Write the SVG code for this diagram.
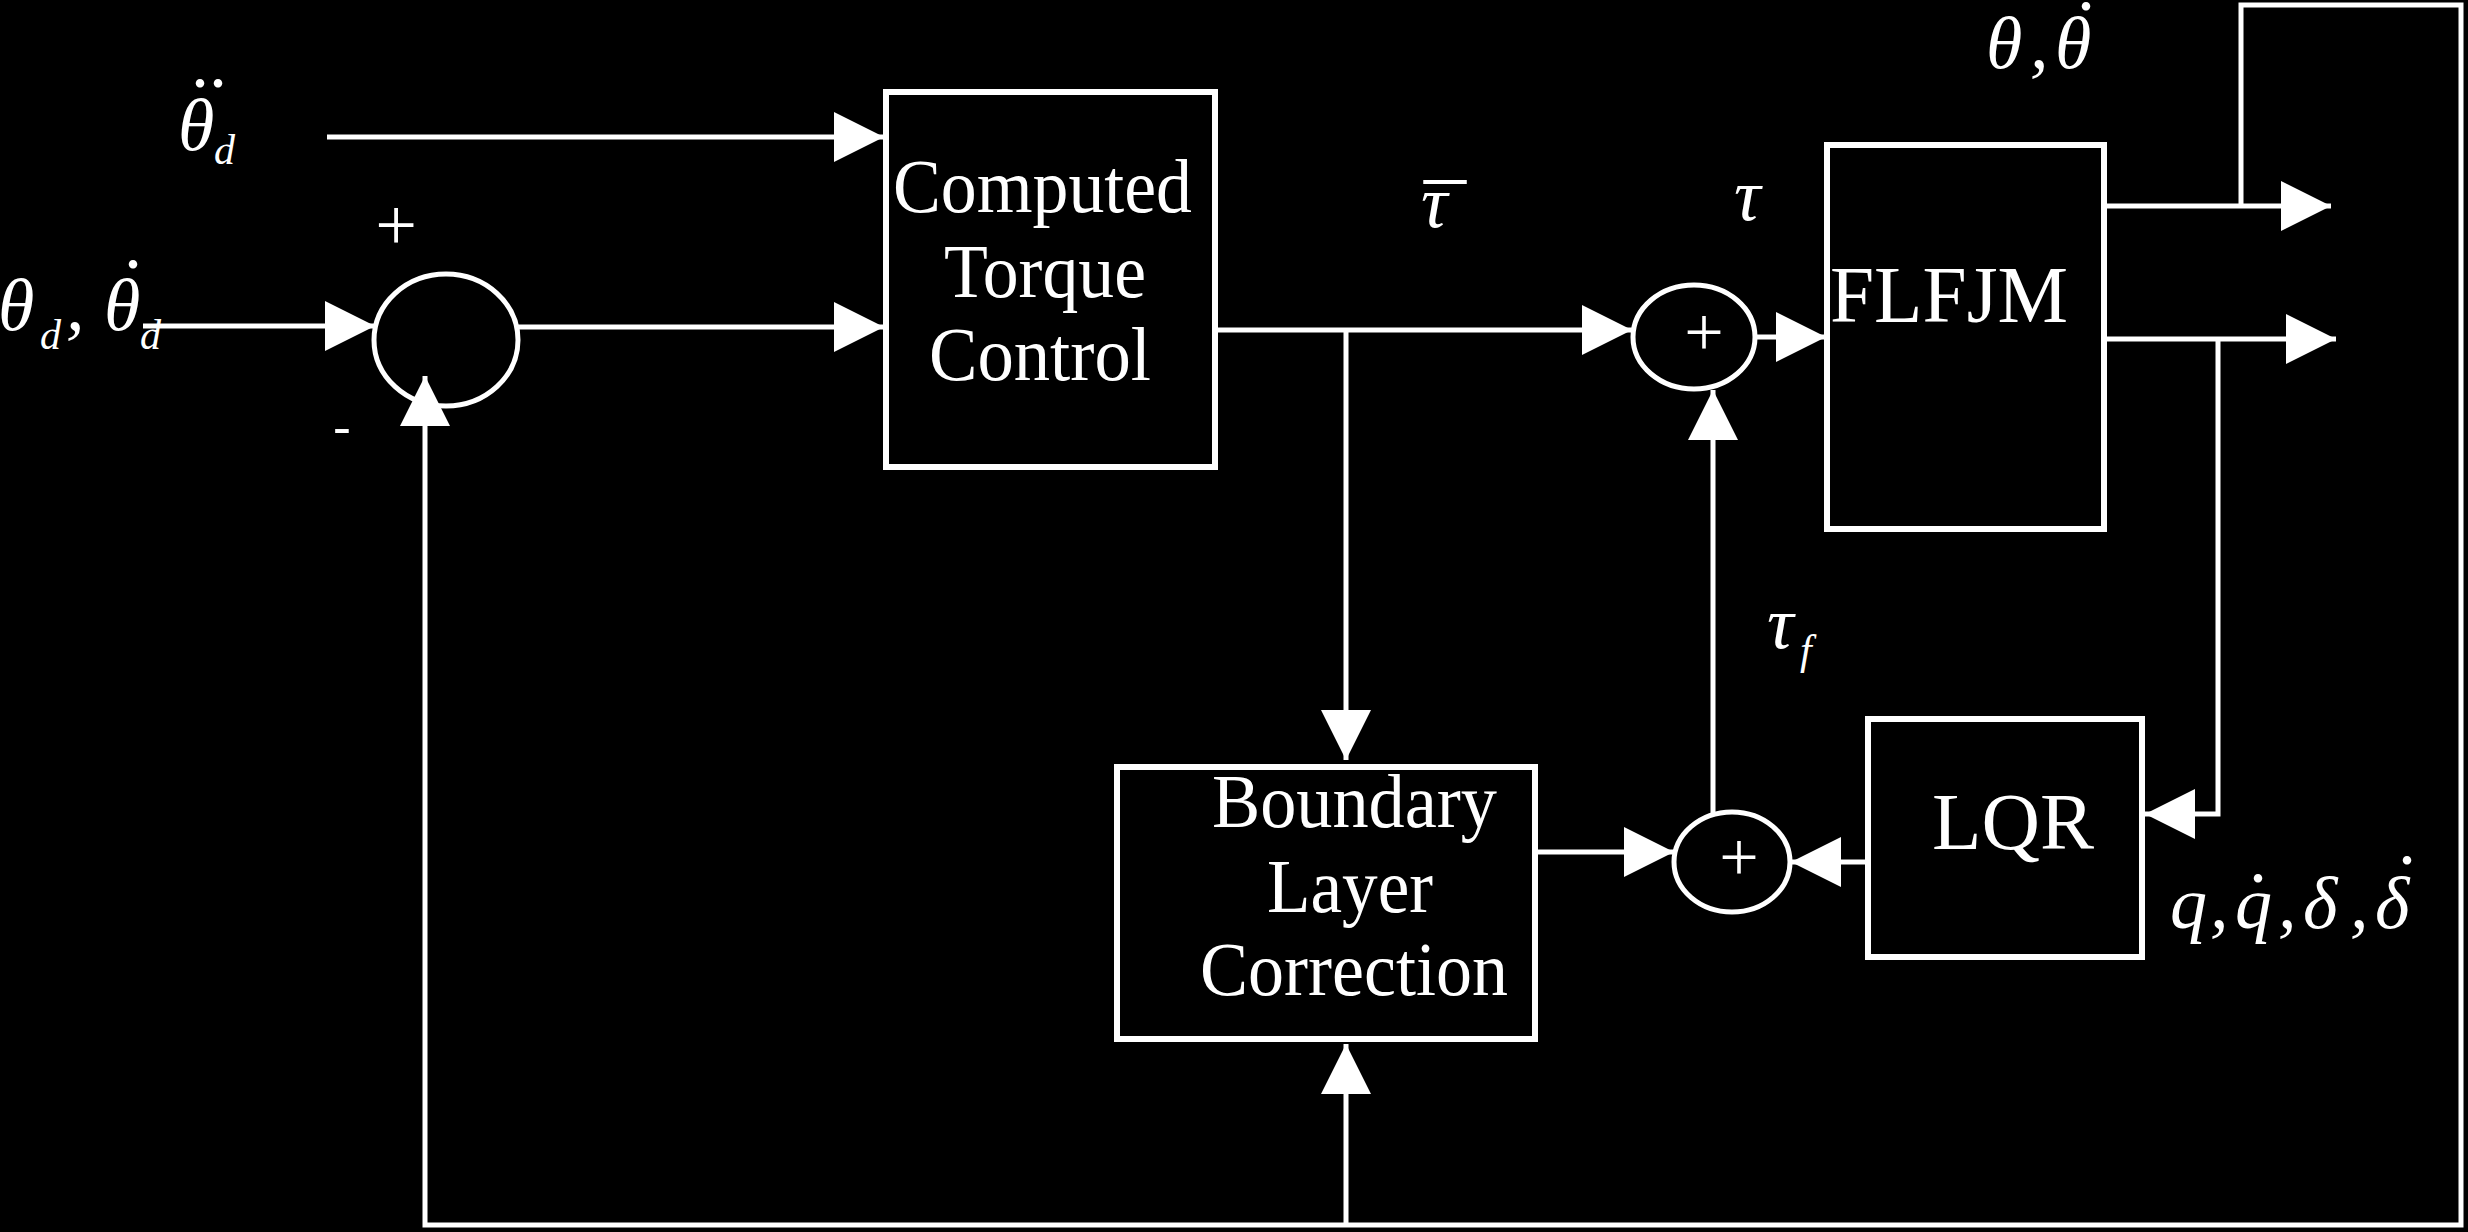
<svg xmlns="http://www.w3.org/2000/svg" width="2468" height="1232" viewBox="0 0 2468 1232">
<style>
.box{fill:none;stroke:#fff;stroke-width:6}
.sum{fill:none;stroke:#fff;stroke-width:5}
.ln{fill:none;stroke:#fff;stroke-width:5}
.lbl{fill:#fff;font-family:"Liberation Serif","Times New Roman",serif;font-size:76px}
.m{fill:#fff;font-family:"Liberation Serif","Times New Roman",serif;font-style:italic;font-size:74px}
.sub{font-size:42px}
.sgn{fill:#fff;font-family:"Liberation Serif","Times New Roman",serif;text-anchor:middle}
.dia{font-style:normal;font-size:72px;text-anchor:middle}
.bar{font-style:normal;font-size:84px;text-anchor:middle}
</style>
<defs>
<marker id="arrow" viewBox="0 0 50 50" markerWidth="50" markerHeight="50" refX="50" refY="25" orient="auto" markerUnits="userSpaceOnUse">
<path d="M0,0 L50,25 L0,50 Z" fill="#fff"/>
</marker>
</defs>
<rect x="0" y="0" width="2468" height="1232" fill="#000"/>

<g id="connectors">
<path class="ln" d="M327,137 H884" marker-end="url(#arrow)"/>
<path class="ln" d="M143,326 H375" marker-end="url(#arrow)"/>
<path class="ln" d="M518,327 H884" marker-end="url(#arrow)"/>
<path class="ln" d="M1215,330 H1632" marker-end="url(#arrow)"/>
<path class="ln" d="M1346,330 V760" marker-end="url(#arrow)"/>
<path class="ln" d="M1755,337 H1826" marker-end="url(#arrow)"/>
<path class="ln" d="M2104,206 H2331" marker-end="url(#arrow)"/>
<path class="ln" d="M2104,339 H2336" marker-end="url(#arrow)"/>
<path class="ln" d="M2218,339 V814 H2145" marker-end="url(#arrow)"/>
<path class="ln" d="M1868,862 H1791" marker-end="url(#arrow)"/>
<path class="ln" d="M1535,852 H1674" marker-end="url(#arrow)"/>
<path class="ln" d="M1713,814 V390" marker-end="url(#arrow)"/>
<path class="ln" d="M2241,206 V5 H2461 V1225 H425 V376" marker-end="url(#arrow)"/>
<path class="ln" d="M1346,1225 V1044" marker-end="url(#arrow)"/>
</g>

<g id="sum1">
<ellipse class="sum" cx="446" cy="340" rx="72" ry="66"/>
<text class="sgn" x="396" y="250" font-size="74">+</text>
<text class="sgn" x="342" y="444" font-size="52">-</text>
</g>
<g id="ctc">
<rect class="box" x="886" y="92" width="329" height="375"/>
<text class="lbl" x="893" y="212" textLength="299" lengthAdjust="spacingAndGlyphs">Computed</text>
<text class="lbl" x="944" y="297" textLength="202" lengthAdjust="spacingAndGlyphs">Torque</text>
<text class="lbl" x="929" y="380" textLength="222" lengthAdjust="spacingAndGlyphs">Control</text>
</g>
<g id="sum2">
<ellipse class="sum" cx="1694" cy="337" rx="61" ry="52"/>
<text class="sgn" x="1704" y="356" font-size="70">+</text>
</g>
<g id="flfjm">
<rect class="box" x="1827" y="145" width="277" height="384"/>
<text class="lbl" x="1830" y="322" style="font-size:80px" textLength="238" lengthAdjust="spacingAndGlyphs">FLFJM</text>
</g>
<g id="blc">
<rect class="box" x="1117" y="767" width="418" height="272"/>
<text class="lbl" x="1212" y="827" textLength="285" lengthAdjust="spacingAndGlyphs">Boundary</text>
<text class="lbl" x="1267" y="912" textLength="166" lengthAdjust="spacingAndGlyphs">Layer</text>
<text class="lbl" x="1200" y="995" textLength="308" lengthAdjust="spacingAndGlyphs">Correction</text>
</g>
<g id="sum3">
<ellipse class="sum" cx="1732" cy="862" rx="58" ry="50"/>
<text class="sgn" x="1739" y="881" font-size="70">+</text>
</g>
<g id="lqr">
<rect class="box" x="1868" y="719" width="274" height="238"/>
<text class="lbl" x="1932" y="849" style="font-size:80px" textLength="162" lengthAdjust="spacingAndGlyphs">LQR</text>
</g>

<g id="labels">
<text class="m"><tspan x="178" y="150">θ</tspan><tspan class="dia" x="209" y="87">..</tspan><tspan class="sub" x="214" y="164">d</tspan></text>

<text class="m"><tspan x="-2" y="330">θ</tspan><tspan class="sub" x="40" y="349">d</tspan><tspan x="66" y="330">,</tspan><tspan x="104" y="330">θ</tspan><tspan class="dia" x="133" y="268">.</tspan><tspan class="sub" x="140" y="349">d</tspan></text>

<text class="m"><tspan x="1986" y="68">θ</tspan><tspan x="2030" y="68">,</tspan><tspan x="2055" y="68">θ</tspan><tspan class="dia" x="2086" y="10">.</tspan></text>

<text class="m"><tspan x="1421" y="227">τ</tspan><tspan class="bar" x="1445" y="244">¯</tspan></text>
<text class="m" x="1734" y="220">τ</text>
<text class="m"><tspan x="1767" y="648">τ</tspan><tspan class="sub" x="1800" y="664">f</tspan></text>

<text class="m"><tspan x="2170" y="928">q</tspan><tspan x="2210" y="928">,</tspan><tspan x="2235" y="928">q</tspan><tspan class="dia" x="2258" y="882">.</tspan><tspan x="2278" y="928">,</tspan><tspan x="2303" y="928">δ</tspan><tspan x="2350" y="928">,</tspan><tspan x="2375" y="928">δ</tspan><tspan class="dia" x="2407" y="864">.</tspan></text>
</g>
</svg>
